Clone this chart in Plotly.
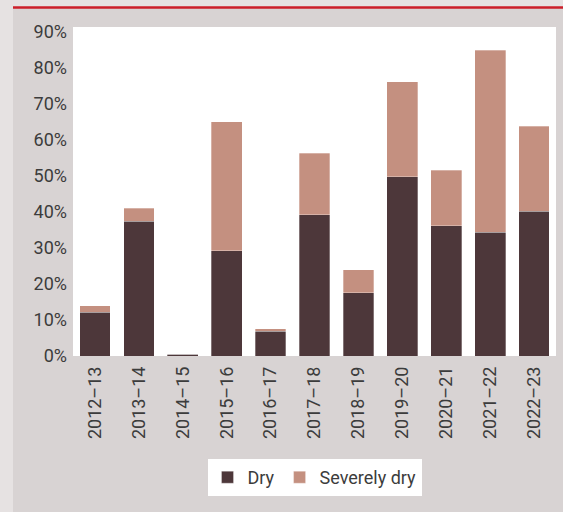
import plotly.graph_objects as go

tick_labels = ["2012–13", "2013–14", "2014–15", "2015–16", "2016–17", "2017–18",
               "2018–19", "2019–20", "2020–21", "2021–22", "2022–23"]
dry = [12.2, 37.4, 0.5, 29.2, 6.9, 39.2, 17.5, 49.7, 36.1, 34.4, 40.2]
severely_dry = [1.8, 3.6, 0.0, 35.8, 0.7, 17.1, 6.5, 26.4, 15.4, 50.5, 23.6]
y_ticks = [0, 10, 20, 30, 40, 50, 60, 70, 80, 90]
y_tick_text = ["0%", "10%", "20%", "30%", "40%", "50%", "60%", "70%", "80%", "90%"]

FONT = "Roboto"
TXT = "#3c3c3c"
W, H = 563, 512
L, R, T, B = 73, 7, 27, 156
pw, ph = W - L - R, H - T - B

def px(x):
    return (x - L) / pw

def py(y):
    return (H - B - y) / ph

fig = go.Figure()
fig.add_bar(x=tick_labels, y=dry, name="Dry", marker_color="#4d373a",
            marker_line=dict(color="rgba(255,255,255,0.5)", width=0.6))
fig.add_bar(x=tick_labels, y=severely_dry, name="Severely dry", marker_color="#c49080",
            marker_line=dict(color="rgba(255,255,255,0.5)", width=0.6))

fig.update_layout(
    width=W, height=H,
    barmode="stack", bargap=0.3,
    margin=dict(l=L, r=R, t=T, b=B),
    paper_bgcolor="#d8d3d3", plot_bgcolor="#ffffff",
    font=dict(family=FONT, size=18, color=TXT),
    showlegend=True,
    legend=dict(orientation="h", x=0.5, xanchor="center", y=py(459), yanchor="top",
                bgcolor="#ffffff", font=dict(size=18, color=TXT),
                itemwidth=30, traceorder="normal", borderwidth=0),
    xaxis=dict(tickangle=-90, showgrid=False, ticks="", ticklabelstandoff=6,
               tickfont=dict(size=18, color=TXT)),
    yaxis=dict(range=[0, 91.3], tickvals=y_ticks, ticktext=y_tick_text, showgrid=False,
               zeroline=False, ticks="", ticklabelstandoff=5,
               tickfont=dict(size=18, color=TXT)),
    shapes=[
        dict(type="rect", xref="paper", yref="paper", x0=px(-5), x1=px(13),
             y0=py(H + 5), y1=py(-5), fillcolor="#e6e2e2", line_width=0),
        dict(type="rect", xref="paper", yref="paper", x0=px(-5), x1=px(W + 5),
             y0=py(7.5), y1=py(-5), fillcolor="#e6e2e2", line_width=0),
        dict(type="line", xref="paper", yref="paper", x0=px(13), x1=px(W + 5),
             y0=py(7.5), y1=py(7.5), line=dict(color="#cc1f2a", width=2.5)),
    ],
)

fig.write_html("out.html", config={"displayModeBar": False},
               post_script="document.body.style.margin='0';")
